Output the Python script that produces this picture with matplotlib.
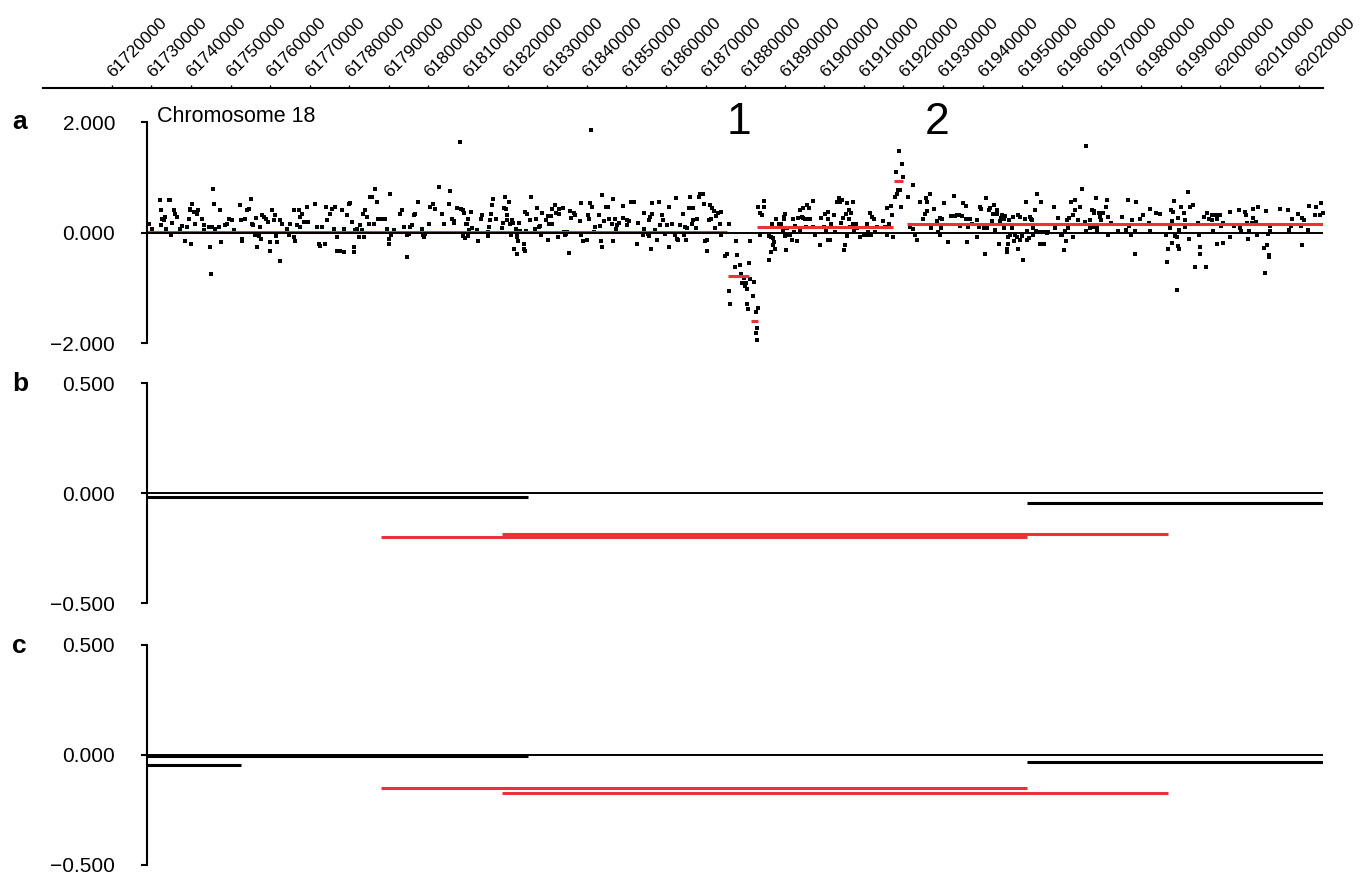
import matplotlib.pyplot as plt
from matplotlib.transforms import ScaledTranslation

plt.rcParams["font.family"] = ["Liberation Sans", "DejaVu Sans"]

# Probe log ratios (position in kb, value)
probes_1 = [
    (61729.2, 0.16), (61730.0, 0.07), (61732.2, 0.58), (61732.3, 0.40), (61732.6, 0.25), (61733.0, 0.22),
    (61733.4, 0.28), (61732.4, 0.13), (61733.7, 0.07), (61734.3, 0.58), (61734.7, 0.58), (61734.9, -0.04),
    (61735.1, 0.17), (61735.5, 0.40), (61735.9, 0.34), (61736.4, 0.28), (61737.2, 0.07), (61737.6, 0.11),
    (61738.5, -0.15), (61738.9, 0.10), (61739.3, 0.25), (61739.6, 0.40), (61739.7, 0.43), (61739.9, -0.21),
    (61740.2, 0.52), (61740.6, 0.37), (61741.0, 0.16), (61741.4, 0.34), (61741.8, 0.40), (61742.7, 0.25),
    (61743.1, 0.13), (61743.2, 0.04), (61744.4, 0.10), (61744.8, -0.27), (61744.9, -0.75), (61745.2, 0.10),
    (61745.6, 0.78), (61745.8, 0.52), (61746.1, 0.07), (61746.9, 0.10), (61747.3, 0.40), (61747.6, -0.18),
    (61748.6, 0.13), (61749.0, 0.16), (61749.4, 0.25), (61750.3, 0.22), (61750.7, 0.04), (61752.4, 0.49),
    (61752.5, 0.22), (61752.8, -0.12), (61752.9, -0.15), (61753.6, 0.25), (61754.1, 0.40), (61754.5, 0.43),
    (61755.1, 0.61), (61755.3, 0.16), (61755.7, 0.13), (61756.2, -0.05), (61756.4, 0.27), (61756.6, -0.27),
    (61757.0, -0.07), (61757.4, 0.10), (61757.5, -0.12), (61757.8, 0.31), (61758.3, 0.29), (61758.9, 0.25),
    (61759.5, 0.19), (61759.8, -0.18), (61760.0, -0.33), (61760.4, 0.40), (61760.8, 0.22), (61761.2, 0.31),
    (61761.5, -0.07), (61761.6, -0.18), (61762.3, 0.22), (61762.5, -0.51), (61762.9, 0.16), (61764.2, 0.07),
    (61764.6, -0.05), (61765.0, 0.16), (61765.9, 0.40), (61766.0, -0.08), (61766.3, -0.15), (61766.7, 0.13),
    (61767.1, 0.40), (61767.4, 0.28), (61767.5, 0.10), (61768.0, 0.34), (61768.4, 0.19), (61769.2, 0.46),
    (61769.6, 0.19), (61771.3, 0.52), (61771.8, 0.10), (61772.2, -0.21), (61772.6, -0.24), (61773.0, 0.10),
    (61773.9, -0.21), (61774.1, 0.46), (61774.3, 0.22), (61775.1, 0.34), (61775.5, 0.43), (61776.0, 0.07),
    (61776.4, 0.46), (61776.8, -0.08), (61776.9, -0.33), (61777.6, -0.33), (61778.1, 0.40), (61778.5, -0.36),
    (61778.7, 0.07), (61779.3, 0.31), (61779.8, 0.52), (61780.2, 0.53), (61780.6, 0.19), (61781.0, -0.27),
    (61781.2, -0.36), (61781.4, 0.04), (61781.9, 0.07), (61782.3, -0.08), (61782.7, 0.13), (61783.1, 0.04),
    (61783.5, 0.34), (61783.7, -0.08), (61784.0, 0.40), (61784.4, 0.28), (61784.8, 0.16), (61785.2, 0.64),
    (61785.7, 0.64), (61786.1, 0.16), (61786.5, 0.79), (61786.9, 0.55), (61787.3, 0.25), (61788.2, 0.25),
    (61789.0, 0.25), (61789.4, 0.07), (61789.9, -0.12), (61790.0, -0.21), (61790.3, 0.70), (61790.5, -0.05),
    (61791.1, 0.04), (61792.8, 0.34), (61793.2, 0.40), (61793.7, 0.10), (61794.5, -0.05), (61794.6, -0.45),
    (61794.9, -0.02), (61795.3, 0.10), (61795.8, 0.13), (61796.2, 0.31), (61796.6, 0.34), (61797.4, 0.55),
    (61798.3, 0.07), (61798.5, -0.05), (61798.7, -0.08), (61799.1, -0.02), (61800.0, 0.16), (61800.4, 0.46),
    (61801.2, 0.52), (61801.7, 0.43), (61802.5, 0.82), (61803.3, 0.34), (61803.8, 0.16), (61805.0, 0.52),
    (61805.4, 0.76),
]

probes_2 = [
    (61805.8, 0.25), (61806.3, 0.21), (61806.4, 0.18), (61807.1, 0.45), (61808.0, 1.64), (61808.1, 0.42),
    (61808.6, 0.41), (61808.8, 0.35), (61808.7, -0.07), (61809.2, -0.09), (61809.5, 0.15), (61809.7, 0.15),
    (61809.8, 0.24), (61810.0, -0.07), (61810.1, 0.04), (61810.7, 0.38), (61810.9, 0.08), (61812.2, 0.04),
    (61812.4, -0.16), (61813.3, 0.24), (61813.4, 0.31), (61814.9, 0.01), (61815.1, -0.07), (61815.3, 0.10),
    (61815.4, 0.22), (61815.8, 0.33), (61816.0, 0.49), (61816.2, 0.61), (61817.1, 0.25), (61818.5, 0.09),
    (61818.7, 0.18), (61818.9, 0.45), (61819.3, 0.64), (61819.5, 0.42), (61819.7, 0.32), (61819.8, 0.22),
    (61820.3, 0.56), (61820.6, 0.16), (61820.7, -0.05), (61821.0, 0.22), (61821.4, 0.18), (61821.6, -0.29),
    (61822.1, 0.07), (61822.2, -0.08), (61822.3, -0.05), (61822.4, -0.38), (61822.5, -0.16), (61822.7, 0.18),
    (61823.1, 0.03), (61824.0, -0.20), (61824.1, -0.29), (61824.2, -0.33), (61824.4, 0.38), (61824.5, 0.03),
    (61824.8, 0.33), (61825.6, 0.22), (61825.9, 0.64), (61826.9, 0.07), (61827.0, 0.25), (61827.4, 0.45),
    (61827.8, 0.10), (61828.2, 0.12), (61828.4, -0.05), (61828.6, 0.35), (61829.7, 0.22), (61830.1, -0.13),
    (61830.2, 0.30), (61830.4, 0.16), (61831.0, 0.30), (61831.1, 0.15), (61831.2, 0.42), (61832.0, 0.50),
    (61832.2, 0.35), (61832.6, -0.08), (61832.8, 0.42), (61833.0, 0.33), (61834.0, 0.45), (61834.2, 0.01),
    (61834.5, -0.05), (61834.7, -0.02), (61834.9, 0.01), (61835.5, -0.37), (61835.8, 0.39), (61835.9, 0.27),
    (61836.6, 0.35), (61837.0, 0.32), (61838.3, 0.21), (61838.4, -0.05), (61838.5, 0.54), (61839.0, -0.16),
    (61840.0, -0.14), (61840.2, 0.32), (61840.4, 0.25), (61840.6, 0.25), (61840.8, 0.53), (61841.1, 1.85),
    (61841.2, 0.47), (61841.8, 0.01), (61842.1, 0.10), (61843.0, 0.32), (61843.2, 0.12), (61843.6, -0.16),
    (61843.8, 0.68), (61843.9, -0.27), (61844.2, 0.21), (61844.9, 0.47), (61845.3, 0.47), (61845.6, 0.25),
    (61846.3, 0.15), (61846.5, 0.61), (61846.6, -0.15), (61847.0, 0.25), (61847.3, 0.07), (61847.6, 0.13),
    (61848.0, 0.18), (61849.1, 0.48), (61849.2, 0.27), (61850.1, 0.22), (61850.2, 0.14), (61850.5, 0.21),
    (61851.2, 0.55), (61851.8, 0.55), (61852.6, -0.20), (61853.0, 0.18), (61854.1, -0.05), (61854.3, 0.07),
    (61854.5, 0.35), (61855.3, -0.02), (61855.6, 0.22), (61855.7, -0.07), (61856.0, 0.28), (61856.1, -0.30),
    (61856.4, 0.33), (61856.5, 0.53), (61857.2, 0.04), (61857.7, -0.14), (61858.2, 0.55), (61858.5, 0.13),
    (61858.9, 0.32), (61859.1, 0.22), (61859.8, -0.02), (61860.2, 0.13), (61860.6, 0.47), (61860.7, -0.27),
    (61861.5, 0.15), (61862.2, -0.05), (61862.5, 0.63), (61862.7, -0.11), (61862.9, -0.13), (61863.4, 0.13),
    (61864.2, 0.33), (61864.6, -0.05), (61864.7, 0.10), (61865.0, -0.13), (61865.2, 0.08), (61865.8, 0.44),
    (61866.1, 0.64), (61866.5, 0.15), (61866.8, 0.45), (61866.9, 0.22), (61867.6, 0.08), (61867.8, 0.25),
    (61868.2, 0.65), (61868.6, 0.69), (61869.3, 0.69), (61869.5, 0.52), (61869.9, -0.16), (61870.3, -0.13),
    (61870.4, -0.33), (61870.7, 0.22), (61871.1, 0.49), (61871.3, 0.24), (61871.6, 0.45), (61872.0, 0.39),
    (61872.4, 0.09), (61872.7, 0.30), (61873.2, 0.35), (61873.7, 0.15), (61873.8, -0.05), (61873.9, 0.38),
    (61874.9, -0.43), (61875.5, -0.38), (61875.8, 0.15), (61876.0, -1.05), (61876.2, -1.29), (61877.5, -0.62),
    (61877.7, -0.15), (61877.9, -0.41), (61878.6, -0.59), (61879.0, -0.75), (61879.1, -0.92), (61879.6, -0.92),
    (61879.7, -0.82), (61880.0, -0.97), (61880.2, -0.92), (61880.4, -1.02), (61880.5, -1.30), (61880.6, -1.38),
    (61880.9, -0.55), (61881.1, -0.85), (61881.3, -0.15),
]

probes_3 = [
    (61881.9, -1.14), (61882.2, -0.90), (61882.7, -1.43), (61882.8, -1.82), (61882.9, -1.94), (61883.0, -1.72),
    (61883.1, -1.36), (61883.3, 0.47), (61883.6, -0.05), (61883.8, 0.36), (61884.2, 0.32), (61884.6, 0.57),
    (61884.8, 0.47), (61885.9, -0.07), (61886.0, -0.50), (61886.5, -0.08), (61886.6, -0.36), (61886.7, 0.15),
    (61887.0, -0.23), (61887.1, -0.09), (61887.2, -0.17), (61887.5, -0.29), (61887.8, 0.25), (61888.4, 0.15),
    (61888.6, 0.10), (61889.0, 0.15), (61889.5, 0.04), (61889.7, 0.28), (61889.8, 0.25), (61890.1, 0.33),
    (61890.1, -0.06), (61890.5, 0.09), (61890.3, -0.31), (61890.9, -0.05), (61891.2, -0.05), (61891.3, -0.05),
    (61891.8, -0.14), (61892.0, 0.24), (61892.3, 0.01), (61892.6, 0.12), (61893.0, -0.16), (61893.4, 0.27),
    (61893.7, 0.41), (61893.9, 0.04), (61894.3, 0.28), (61894.5, 0.45), (61894.7, 0.27), (61895.1, 0.25),
    (61895.4, 0.10), (61895.5, 0.50), (61896.0, 0.24), (61896.2, 0.45), (61896.4, 0.25), (61897.1, 0.57),
    (61897.2, 0.10), (61897.7, -0.05), (61898.9, -0.22), (61899.1, 0.27), (61899.8, 0.10), (61900.2, 0.33),
    (61900.4, 0.04), (61900.8, 0.24), (61900.9, 0.38), (61901.0, -0.14), (61901.4, -0.14), (61901.6, 0.15),
    (61902.3, 0.32), (61902.7, 0.01), (61903.1, 0.56), (61903.6, 0.62), (61904.0, 0.56), (61904.1, 0.18),
    (61904.4, 0.59), (61904.6, 0.27), (61905.0, -0.31), (61905.2, -0.23), (61905.5, 0.33), (61905.7, -0.07),
    (61905.8, 0.53), (61906.1, 0.25), (61906.3, 0.41), (61906.5, 0.10), (61906.8, 0.35), (61907.2, 0.15),
    (61907.3, 0.55), (61907.5, 0.03), (61907.9, 0.15), (61908.2, 0.09), (61909.0, -0.08), (61910.0, -0.05),
    (61910.7, -0.05), (61910.8, 0.16), (61911.1, 0.01), (61911.4, 0.35), (61911.7, -0.05), (61912.0, 0.28),
    (61912.4, 0.25), (61912.8, 0.01), (61913.2, 0.10), (61914.9, 0.21), (61915.3, 0.10), (61915.8, -0.05),
    (61915.9, 0.45), (61916.2, 0.16), (61916.8, 0.48), (61917.0, 0.32), (61917.3, -0.08), (61917.9, 0.64),
    (61918.1, 1.10), (61918.3, 0.70), (61918.5, 0.77), (61918.8, 1.47), (61919.1, 0.77), (61919.3, 0.47),
    (61919.6, 1.24), (61919.8, 1.00), (61921.2, 0.64), (61921.7, 0.10), (61922.3, 0.86), (61922.4, 0.07),
    (61922.9, -0.05), (61923.4, -0.13), (61924.2, 0.55), (61925.0, 0.24), (61925.5, 0.33), (61925.7, 0.63),
    (61925.9, 0.55), (61926.0, 0.39), (61926.6, 0.69), (61926.9, 0.09), (61927.8, 0.42), (61928.4, 0.21),
    (61928.6, 0.01), (61929.1, -0.05), (61929.2, 0.27), (61929.5, 0.08), (61929.8, 0.25), (61930.3, 0.53),
    (61931.2, -0.17), (61931.9, 0.30), (61932.8, 0.66), (61933.0, 0.30), (61933.5, 0.32), (61933.9, 0.32),
    (61934.3, 0.12), (61934.7, 0.30), (61935.0, 0.54), (61935.7, 0.48), (61935.8, 0.24), (61936.0, -0.17),
    (61936.2, 0.10), (61936.8, 0.24), (61937.4, 0.15), (61938.5, 0.22), (61938.6, -0.08), (61939.0, 0.10),
    (61939.4, 0.47), (61939.5, 0.42), (61940.2, 0.09), (61940.6, -0.38), (61940.9, 0.62), (61941.0, 0.08),
    (61941.5, 0.41), (61941.9, 0.44), (61942.3, 0.21), (61942.7, 0.33), (61942.9, 0.50), (61943.1, 0.04),
    (61943.6, 0.41), (61943.7, 0.33), (61944.0, -0.20), (61944.4, 0.21), (61944.6, 0.27), (61944.8, 0.32),
    (61945.3, 0.25), (61945.4, 0.09), (61945.7, 0.30), (61946.1, -0.35), (61946.2, -0.29), (61946.4, -0.20),
    (61946.5, -0.08), (61946.7, 0.22), (61946.9, -0.05), (61947.4, 0.09), (61947.6, 0.28), (61947.8, -0.15),
    (61948.2, -0.05), (61948.6, -0.08), (61948.9, -0.29), (61949.0, 0.32), (61949.3, -0.14), (61949.5, 0.28),
    (61949.9, -0.07), (61950.1, -0.50), (61950.7, 0.25), (61950.9, 0.56), (61951.1, -0.14), (61951.3, 0.02),
    (61951.6, -0.09), (61952.0, 0.28), (61952.2, 0.25), (61952.4, 0.22), (61952.6, 0.08), (61952.8, -0.05),
    (61953.3, 0.41), (61953.5, 0.02), (61953.7, 0.69), (61954.1, 0.01), (61954.4, -0.21), (61954.7, 0.56),
    (61954.9, 0.01), (61955.4, -0.21), (61955.8, 0.01), (61956.2, -0.01), (61956.6, 0.01),
]

probes_4 = [
    (61958.0, 0.46), (61958.3, 0.08), (61959.1, 0.26), (61959.7, -0.04), (61960.0, -0.04), (61960.6, -0.32),
    (61960.7, 0.02), (61961.1, -0.16), (61961.2, 0.23), (61961.5, 0.08), (61961.7, 0.26), (61962.3, 0.56),
    (61962.8, 0.32), (61962.9, -0.08), (61963.3, 0.41), (61963.4, 0.59), (61964.0, 0.23), (61964.6, 0.46),
    (61965.1, 0.78), (61965.9, 0.19), (61966.0, 1.56), (61966.1, 0.02), (61967.0, 0.08), (61967.1, 0.23),
    (61967.6, 0.41), (61967.8, 0.10), (61968.1, 0.35), (61968.2, 0.39), (61968.7, 0.62), (61968.8, 0.10),
    (61968.9, 0.03), (61969.5, 0.35), (61969.7, 0.28), (61969.9, 0.23), (61970.3, 0.35), (61971.1, 0.47),
    (61971.3, 0.59), (61971.6, 0.28), (61971.7, -0.04), (61972.4, 0.18), (61974.3, 0.02), (61975.1, 0.28),
    (61976.2, 0.05), (61976.8, 0.58), (61977.0, 0.11), (61977.4, -0.04), (61977.7, 0.23), (61978.5, -0.39),
    (61978.6, 0.02), (61978.8, 0.55), (61979.8, 0.25), (61980.4, 0.32), (61981.9, 0.18), (61982.3, 0.02),
    (61982.4, 0.42), (61983.8, 0.35), (61984.8, 0.33), (61986.3, -0.04), (61986.5, -0.54), (61986.8, -0.30),
    (61987.4, 0.08), (61987.6, 0.41), (61987.8, -0.19), (61987.9, 0.20), (61988.2, 0.38), (61988.4, 0.57),
    (61988.6, -0.07), (61989.0, -0.08), (61989.1, -1.04), (61989.3, 0.26), (61989.4, -0.25), (61989.5, -0.30),
    (61989.6, 0.04), (61990.1, 0.47), (61990.9, 0.35), (61991.0, 0.23), (61991.2, 0.10), (61991.9, 0.73),
    (61992.2, -0.12), (61992.3, 0.47), (61993.2, 0.50), (61993.7, -0.63), (61994.5, 0.17), (61994.7, -0.04),
    (61994.8, -0.38), (61994.9, -0.27), (61995.8, 0.28), (61996.4, -0.63), (61996.7, 0.35), (61997.2, 0.24),
    (61997.9, 0.32), (61998.0, 0.23), (61998.1, 0.03), (61999.0, 0.32), (61999.1, 0.25), (61999.2, -0.21),
    (61999.6, 0.32), (62000.0, 0.32), (62000.2, 0.11), (62000.7, -0.19), (62000.8, 0.18), (62002.5, -0.08),
    (62002.6, 0.38), (62003.5, 0.11), (62004.8, 0.41), (62004.9, 0.08), (62005.3, 0.02), (62006.3, 0.38),
    (62006.6, 0.32), (62006.9, 0.17), (62007.1, -0.12), (62007.2, 0.02), (62008.0, 0.17), (62008.2, 0.42),
    (62008.4, 0.26), (62009.1, 0.19), (62009.2, -0.04), (62009.5, 0.46), (62011.0, -0.28), (62011.4, -0.74),
    (62011.6, 0.39), (62011.8, -0.22), (62012.0, -0.02), (62012.3, -0.41), (62012.4, -0.45), (62012.6, 0.11),
    (62012.7, 0.02), (62015.2, 0.42), (62017.2, 0.41), (62017.3, 0.05), (62017.9, 0.11), (62018.1, 0.24),
    (62019.6, 0.33), (62020.5, 0.11), (62020.7, 0.26), (62020.8, -0.22), (62021.2, 0.23), (62022.2, 0.04),
    (62022.5, 0.48), (62024.0, 0.32), (62024.3, 0.46), (62025.3, 0.32), (62025.4, 0.53), (62026.0, 0.35),
]

# Segments (start kb, end kb, value)
segment_a_baseline = (61728.8, 61875.3, 0.012)
segments_a_red = [
    (61875.7, 61881.0, -0.78), (61881.5, 61883.3, -1.60),
    (61883.0, 61917.4, 0.10), (61917.6, 61919.9, 0.93), (61920.9, 62026.0, 0.15),
]
segments_b_black = [(61728.8, 61825.1, -0.020), (61951.2, 62026.0, -0.047)]
segments_b_red = [(61788.0, 61951.2, -0.200), (61818.6, 61986.9, -0.188)]
segments_c_black = [(61728.8, 61825.1, -0.003), (61728.8, 61752.6, -0.047), (61951.2, 62026.0, -0.033)]
segments_c_red = [(61788.0, 61951.2, -0.150), (61818.6, 61986.9, -0.173)]

genome_ticks = list(range(61720000, 62020001, 10000))

RED = "#EC3237"
X_LEFT, X_RIGHT = 61728.8e3, 62026.0e3
X_TOP_LEFT = 61702.6e3

fig = plt.figure(figsize=(13.6, 8.76), dpi=100)

# Genomic coordinate axis along the top
ax_top = fig.add_axes([0.0316, 0.8995, 0.9412, 0.0001])
ax_top.set_xlim(X_TOP_LEFT, X_RIGHT)
ax_top.patch.set_visible(False)
for side in ["left", "right", "bottom"]:
    ax_top.spines[side].set_visible(False)
ax_top.spines["top"].set_linewidth(1.5)
ax_top.set_yticks([])
ax_top.xaxis.tick_top()
ax_top.set_xticks(genome_ticks)
ax_top.set_xticklabels([str(t) for t in genome_ticks], rotation=45, ha="left",
                       va="baseline", rotation_mode="anchor", fontsize=12.5)
ax_top.tick_params(axis="x", direction="out", length=2.5, width=1.0, pad=5)
# nudge labels a pixel or two right, like the original
shift = ScaledTranslation(1.5 / 100, 0, fig.dpi_scale_trans)
for label in ax_top.get_xticklabels():
    label.set_transform(label.get_transform() + shift)


def setupPanel(ax, lim, ticks, labels, letter, letterY):
    """Style one panel: left spine only, zero line, panel letter."""
    ax.set_xlim(X_LEFT, X_RIGHT)
    ax.set_ylim(-lim, lim)
    for side in ["top", "right", "bottom"]:
        ax.spines[side].set_visible(False)
    ax.spines["left"].set_linewidth(1.5)
    ax.set_xticks([])
    ax.set_yticks(ticks)
    ax.set_yticklabels(labels)
    ax.tick_params(axis="y", length=4, width=1.5, pad=19, labelsize=15)
    ax.axhline(0, color="black", lw=1.4, zorder=2)
    fig.text(0.009, letterY, letter, fontsize=19, fontweight="bold", va="baseline")


# Panel a
ax_a = fig.add_axes([0.1081, 0.6084, 0.8647, 0.2523])
setupPanel(ax_a, 2.0, [-2, 0, 2], ["\u22122.000", "0.000", "2.000"], "a", 1 - 129 / 876)
for chunk in [probes_1, probes_2, probes_3, probes_4]:
    xs = [p[0] * 1000 for p in chunk]
    ys = [p[1] for p in chunk]
    ax_a.plot(xs, ys, "s", ms=2.3, mew=0, color="black", zorder=1, clip_on=False)
# the first segment sits almost on the zero line, partly hidden by it
start, end, value = segment_a_baseline
ax_a.hlines(value, start * 1000, end * 1000, colors=RED, lw=2.2, zorder=1.5)
for start, end, value in segments_a_red:
    ax_a.hlines(value, start * 1000, end * 1000, colors=RED, lw=2.2, zorder=3)
ax_a.text(0.0085, 1.0, "Chromosome 18", transform=ax_a.transAxes, fontsize=15.5, va="baseline")
ax_a.text(61878.5e3, 1.78, "1", fontsize=32, ha="center", va="baseline")
ax_a.text(61928.5e3, 1.78, "2", fontsize=32, ha="center", va="baseline")

# Panel b
ax_b = fig.add_axes([0.1081, 0.3116, 0.8647, 0.2511])
setupPanel(ax_b, 0.5, [-0.5, 0, 0.5], ["\u22120.500", "0.000", "0.500"], "b", 1 - 391 / 876)
for start, end, value in segments_b_black:
    ax_b.hlines(value, start * 1000, end * 1000, colors="black", lw=2.2, zorder=3)
for start, end, value in segments_b_red:
    ax_b.hlines(value, start * 1000, end * 1000, colors=RED, lw=2.2, zorder=3)

# Panel c
ax_c = fig.add_axes([0.1081, 0.0126, 0.8647, 0.2511])
setupPanel(ax_c, 0.5, [-0.5, 0, 0.5], ["\u22120.500", "0.000", "0.500"], "c", 1 - 653 / 876)
for start, end, value in segments_c_black:
    ax_c.hlines(value, start * 1000, end * 1000, colors="black", lw=2.2, zorder=3)
for start, end, value in segments_c_red:
    ax_c.hlines(value, start * 1000, end * 1000, colors=RED, lw=2.2, zorder=3)

fig.savefig("out.png", dpi=100)
